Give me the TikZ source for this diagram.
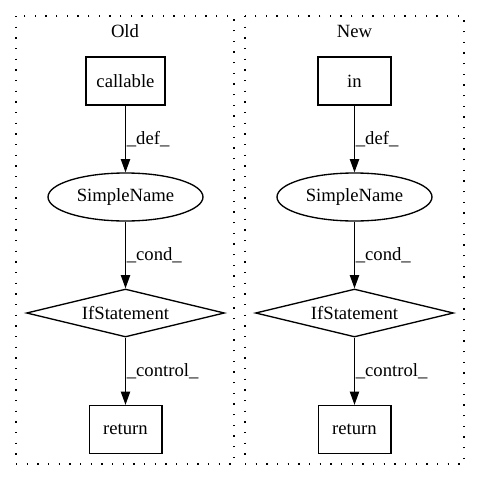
\documentclass[tikz,border=0pt]{standalone}
\usepackage{fontspec}
\setmainfont{Liberation Serif}
\usetikzlibrary{shapes.geometric,arrows.meta}
\begin{document}
\begin{tikzpicture}[x=0.75bp,y=-0.75bp,
  font=\fontsize{14bp}{16bp}\selectfont,
  cluster/.style={draw, line width=1bp, dash pattern=on 1bp off 7bp},
  boxnode/.style={draw, line width=1bp, rectangle, inner sep=0pt, minimum height=36bp},
  ellnode/.style={draw, line width=1bp, ellipse, inner sep=0pt, minimum width=116.25bp, minimum height=36bp},
  dianode/.style={draw, line width=1bp, diamond, shape aspect=4.125, inner sep=0pt, minimum width=148.5bp, minimum height=36bp},
  edge/.style={draw, line width=1bp, -{Triangle[length=10bp,width=7bp]}},
  elabel/.style={anchor=west, inner sep=0.5bp}
]
\useasboundingbox (0,0) rectangle (480,480);
% clusters
\draw[cluster] (16,16) rectangle (234,464);
\draw[cluster] (245,16) rectangle (464,464);
\node (oldlbl) at (125,31) {Old};
\node (newlbl) at (354.5,31) {New};
% Old
\node[boxnode, minimum width=59.25bp] (callable) at (125.5,81) {callable};
\node[ellnode] (sn1) at (125.5,197) {SimpleName};
\node[dianode] (if1) at (125.5,313) {IfStatement};
\node[boxnode, minimum width=54.5bp] (ret1) at (125.5,429.5) {return};
\draw[edge] (callable) -- node[elabel] {\_def\_} (sn1);
\draw[edge] (sn1) -- node[elabel] {\_cond\_} (if1);
\draw[edge] (if1) -- node[elabel] {\_control\_} (ret1);
% New
\node[boxnode, minimum width=54.75bp] (in) at (354.5,81) {in};
\node[ellnode] (sn2) at (354.5,197) {SimpleName};
\node[dianode] (if2) at (354.5,313) {IfStatement};
\node[boxnode, minimum width=54.5bp] (ret2) at (354.5,429.5) {return};
\draw[edge] (in) -- node[elabel] {\_def\_} (sn2);
\draw[edge] (sn2) -- node[elabel] {\_cond\_} (if2);
\draw[edge] (if2) -- node[elabel] {\_control\_} (ret2);
\end{tikzpicture}
\end{document}
